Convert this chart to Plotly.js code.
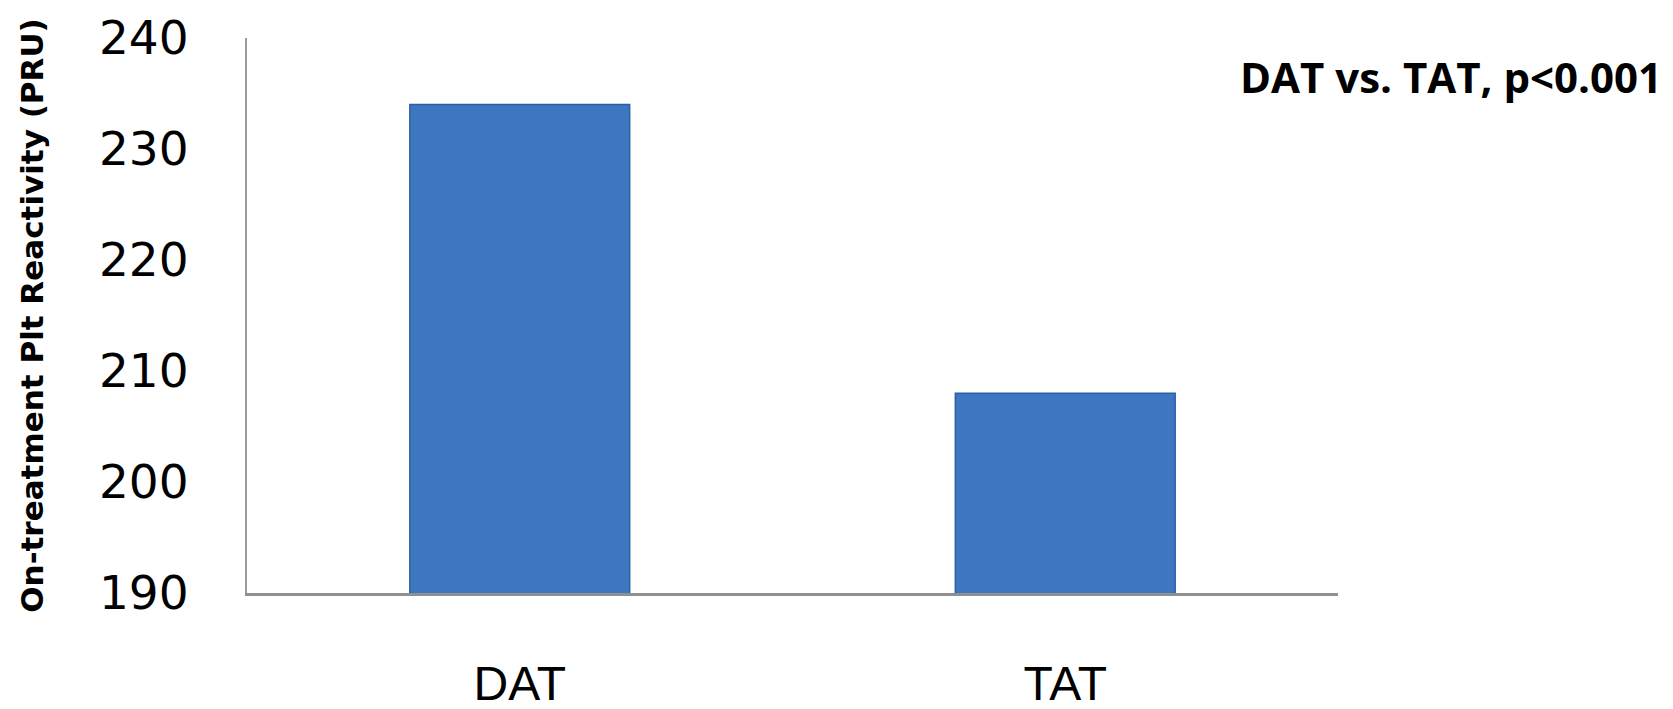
<!DOCTYPE html>
<html>
<head>
<meta charset="utf-8">
<script src="https://cdn.plot.ly/plotly-3.0.1.min.js"></script>
<style>
  html, body { margin: 0; padding: 0; background: #ffffff; }
  #chart { width: 1673px; height: 709px; }
</style>
</head>
<body>
<div id="chart"></div>
<script>
// Mean on-treatment platelet reactivity by regimen
const groups = ["DAT", "TAT"];
const pruValues = [234, 208];
const yTickValues = [190, 200, 210, 220, 230, 240];
const yAxisTitle = "On-treatment Plt Reactivity (PRU)";
const comparisonNote = "DAT vs. TAT, p<0.001";

const barTrace = {
  type: "bar",
  x: groups,
  y: pruValues,
  marker: {
    color: "#3d77c2",
    line: { color: "#2f5f9f", width: 1.5 }
  },
  hoverinfo: "x+y",
  showlegend: false
};

const layout = {
  width: 1673,
  height: 709,
  autosize: false,
  margin: { l: 247, r: 335, t: 38, b: 116, pad: 0 },
  paper_bgcolor: "#ffffff",
  plot_bgcolor: "#ffffff",
  bargap: 0.597,
  xaxis: {
    type: "category",
    showgrid: false,
    zeroline: false,
    showline: true,
    linecolor: "#8f8f8f",
    linewidth: 3,
    ticks: "",
    ticklabelstandoff: 46,
    tickfont: { family: "Liberation Sans, Arial, sans-serif", size: 48, color: "#000000" }
  },
  yaxis: {
    range: [190, 240],
    tickvals: yTickValues,
    showgrid: false,
    zeroline: false,
    showline: true,
    linecolor: "#9a9a9a",
    linewidth: 2,
    ticks: "",
    ticklabelstandoff: 47,
    tickfont: { family: "DejaVu Sans, Verdana, sans-serif", size: 47, color: "#000000" },
    title: {
      text: yAxisTitle,
      standoff: 46,
      font: { family: "DejaVu Sans, Verdana, sans-serif", size: 31, color: "#000000", weight: "bold" }
    }
  },
  annotations: [
    {
      text: "<b>" + comparisonNote + "</b>",
      xref: "paper",
      yref: "paper",
      x: 1.2988,
      y: 0.931,
      xanchor: "right",
      yanchor: "middle",
      showarrow: false,
      font: { family: "Open Sans, sans-serif", size: 42, color: "#000000" }
    }
  ]
};

Plotly.newPlot("chart", [barTrace], layout, { staticPlot: true, displayModeBar: false });
</script>
</body>
</html>
